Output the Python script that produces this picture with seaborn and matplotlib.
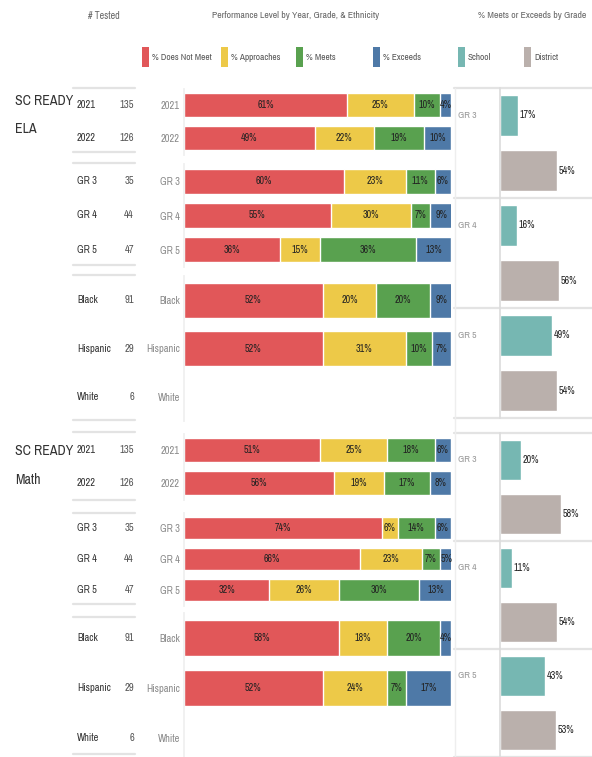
import numpy as np
import pandas as pd
import matplotlib
matplotlib.use("Agg")
import matplotlib.pyplot as plt
import matplotlib.transforms as mtrans
from matplotlib import font_manager as fm
from matplotlib.patches import Rectangle
from matplotlib.lines import Line2D
import seaborn as sns

# ---- data ----
levels = ["% Does Not Meet", "% Approaches", "% Meets", "% Exceeds"]
level_colors = ["#E15759", "#EDC948", "#59A14F", "#4E79A7"]

year_labels = ["2021", "2022"]
grade_labels = ["GR 3", "GR 4", "GR 5"]
eth_labels = ["Black", "Hispanic", "White"]

year_tested = [135, 126]
grade_tested = [35, 44, 47]
eth_tested = [91, 29, 6]

# ELA performance level shares (Does Not Meet, Approaches, Meets, Exceeds)
ela_year = [[61, 25, 10, 4], [49, 22, 19, 10]]
ela_grade = [[60, 23, 11, 6], [55, 30, 7, 9], [36, 15, 36, 13]]
ela_eth = [[52, 20, 20, 9], [52, 31, 10, 7], None]

# Math
math_year = [[51, 25, 18, 6], [56, 19, 17, 8]]
math_grade = [[74, 6, 14, 6], [66, 23, 7, 5], [32, 26, 30, 13]]
math_eth = [[58, 18, 20, 4], [52, 24, 7, 17], None]

# % Meets or Exceeds by grade
me_groups = ["School", "District"]
me_colors = ["#76B7B2", "#BAB0AC"]
ela_school = [17, 16, 49]
ela_district = [54, 56, 54]
math_school = [20, 11, 43]
math_district = [58, 54, 53]

# ---- font: look for a narrow face like Tableau's ----
narrow_stretch = ("ultra-condensed", "extra-condensed", "condensed", "semi-condensed")
family, stretch, k = None, "normal", 0.8
for f in fm.fontManager.ttflist:
    if "Narrow" in f.name:
        family, stretch, k = f.name, "normal", 1.0
        break
if family is None:
    for pref in ["Roboto", "Noto Sans", "Open Sans", "DejaVu Sans", "Liberation Sans"]:
        hits = [f for f in fm.fontManager.ttflist if f.name == pref and f.stretch in narrow_stretch]
        if hits:
            family, stretch, k = pref, "condensed", 1.0
            break
if family is None:
    family = "Liberation Sans"

W, H = 592, 757
sns.set_theme(style="white")
plt.rcParams["font.family"] = [family, "DejaVu Sans"]
plt.rcParams["font.stretch"] = stretch
fig = plt.figure(figsize=(W / 100, H / 100), dpi=100)
fig.patch.set_facecolor("white")

LINE = "#e3e3e3"
TXT = "#333333"
GRAY = "#8a8a8a"


def fs(size):
    return size * k


def fx(px):
    return px / W


def fy(py):
    return 1 - py / H


def hline(x0, x1, y, color=LINE, lw=1.6):
    fig.add_artist(Line2D([fx(x0), fx(x1)], [fy(y), fy(y)], color=color, lw=lw,
                          transform=fig.transFigure))


def stacked_group(top, bottom, labels, values, tested, bold=True):
    ax = fig.add_axes([fx(184), fy(bottom), fx(451) - fx(184), (bottom - top) / H])
    rows = []
    for lab, vals in zip(labels, values):
        if vals is None:
            continue
        cum = np.cumsum(vals)
        for j, lev in enumerate(levels):
            rows.append({"label": lab, "level": lev, "cum": cum[j], "val": vals[j]})
    df = pd.DataFrame(rows)
    # draw cumulative totals from the last level backwards -> stacked look
    for j in range(3, -1, -1):
        sub = df[df["level"] == levels[j]]
        sns.barplot(data=sub, y="label", x="cum", order=labels, color=level_colors[j],
                    width=0.72, saturation=1, ax=ax, errorbar=None)
    for i, lab in enumerate(labels):
        sub = df[df["label"] == lab]
        if sub.empty:
            continue
        left = 0
        for _, r in sub.iterrows():
            ax.text(left + r["val"] / 2, i, f"{r['val']}%", ha="center", va="center",
                    fontsize=fs(7.2), color="#222222")
            left += r["val"]
    ax.set_xlim(0, 100)
    ax.set_ylim(len(labels) - 0.5, -0.5)
    ax.set_xlabel("")
    ax.set_ylabel("")
    ax.set_xticks([])
    ax.tick_params(axis="y", length=0, pad=3, labelsize=fs(7.5), labelcolor=GRAY)
    for s in ["top", "right", "bottom"]:
        ax.spines[s].set_visible(False)
    ax.spines["left"].set_color("#efefef")
    ax.set_facecolor("none")
    # table of # tested
    tr = mtrans.blended_transform_factory(fig.transFigure, ax.transData)
    for i, (lab, n) in enumerate(zip(labels, tested)):
        ax.text(fx(77), i, lab, transform=tr, ha="left", va="center", fontsize=fs(7.5),
                color=TXT, fontweight="bold" if bold else "normal")
        ax.text(fx(134), i, str(n), transform=tr, ha="right", va="center", fontsize=fs(7.6),
                color="#555555")
    return ax


def meets_panel(top, bottom, school, district):
    ax = fig.add_axes([fx(500), fy(bottom), fx(592) - fx(500), (bottom - top) / H])
    df = pd.DataFrame({
        "grade": grade_labels * 2,
        "group": [me_groups[0]] * 3 + [me_groups[1]] * 3,
        "value": school + district,
    })
    sns.barplot(data=df, y="grade", x="value", hue="group", order=grade_labels,
                hue_order=me_groups, palette=me_colors, width=1.0, gap=0.25,
                saturation=1, errorbar=None, legend=False, ax=ax)
    for vals, off in [(school, -0.25), (district, 0.25)]:
        for i, v in enumerate(vals):
            ax.text(v + 1.5, i + off, f"{v}%", ha="left", va="center", fontsize=fs(7.2),
                    color="#222222")
    ax.set_xlim(0, 87.2)
    ax.set_ylim(len(grade_labels) - 0.5, -0.5)
    ax.set_xticks([])
    ax.set_yticks([])
    ax.set_xlabel("")
    ax.set_ylabel("")
    for s in ["top", "right", "bottom"]:
        ax.spines[s].set_visible(False)
    ax.spines["left"].set_color("#dddddd")
    ax.set_facecolor("none")
    tr = mtrans.blended_transform_factory(fig.transFigure, ax.transData)
    for i, g in enumerate(grade_labels):
        ax.text(fx(458), i - 0.25, g, transform=tr, ha="left", va="center", fontsize=fs(7),
                color="#999999")
        ax.axhline(i + 0.5, xmin=-0.5, color=LINE, lw=1.6, clip_on=False)
    ax.axhline(-0.5, xmin=-0.5, color=LINE, lw=1.6, clip_on=False)
    return ax


# ---- ELA ----
stacked_group(88.5, 154.5, year_labels, ela_year, year_tested)
stacked_group(164, 267, grade_labels, ela_grade, grade_tested, bold=False)
stacked_group(276, 421, eth_labels, ela_eth, eth_tested)
meets_panel(88, 418, ela_school, ela_district)

# ---- Math ----
stacked_group(433.5, 499.5, year_labels, math_year, year_tested)
stacked_group(512.5, 605.5, grade_labels, math_grade, grade_tested, bold=False)
stacked_group(613, 763, eth_labels, math_eth, eth_tested)
meets_panel(433, 757, math_school, math_district)

# table separator lines
for y in [88, 152, 163, 265, 275, 420, 432, 500, 513, 604, 617, 754]:
    hline(73, 135, y)
fig.add_artist(Line2D([fx(455), fx(455)], [fy(88), fy(757)], color="#eeeeee", lw=1,
                      transform=fig.transFigure))

# subject labels
for txt, y in [("SC READY", 101), ("ELA", 129), ("SC READY", 451), ("Math", 480)]:
    fig.text(fx(15), fy(y), txt, fontsize=fs(10), color=TXT, va="center")

# headers
fig.text(fx(104), fy(16), "# Tested", fontsize=fs(7.2), color="#666666", ha="center", va="center")
fig.text(fx(296), fy(16), "Performance Level by Year, Grade, & Ethnicity", fontsize=fs(7),
         color="#666666", ha="center", va="center")
fig.text(fx(532), fy(16), "% Meets or Exceeds by Grade", fontsize=fs(7), color="#666666",
         ha="center", va="center")

# legends
legend_items = list(zip(levels + me_groups, level_colors + me_colors,
                        [142, 221, 296, 373, 458, 524]))
for name, col, x0 in legend_items:
    fig.add_artist(Rectangle((fx(x0), fy(67)), fx(7), 20 / H, facecolor=col,
                             edgecolor="none", transform=fig.transFigure))
    fig.text(fx(x0 + 10), fy(57), name, fontsize=fs(6.7), color="#555555", va="center")

fig.savefig("out.png", dpi=100, facecolor="white")
